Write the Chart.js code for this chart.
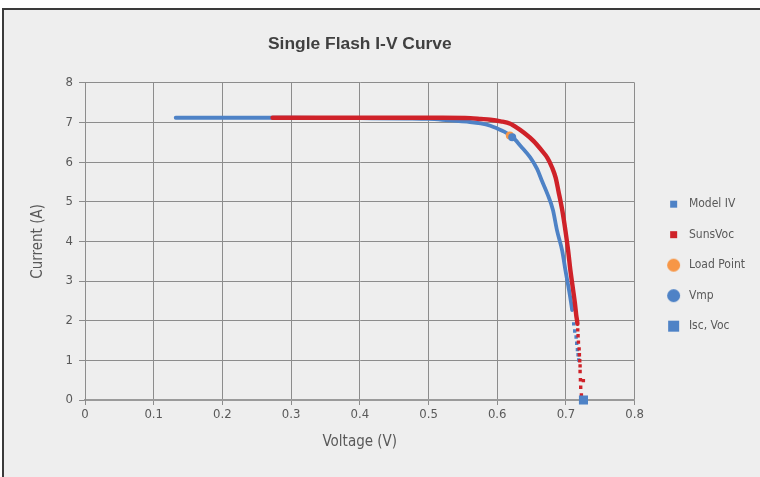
<!DOCTYPE html>
<html>
<head>
<meta charset="utf-8">
<title>Single Flash I-V Curve</title>
<script src="https://cdn.jsdelivr.net/npm/chart.js@4.4.1/dist/chart.umd.min.js"></script>
<style>
    html, body { margin: 0; padding: 0; background: #ffffff; }
    #frame {
        position: absolute; left: 2px; top: 8px; width: 758px; height: 469px;
        box-sizing: border-box; background: #eeeeee;
        border-left: 2px solid #3a3a3a; border-top: 2px solid #3a3a3a;
    }
    #chart-iv { position: absolute; left: 0; top: 0; }
</style>
</head>
<body>
<div id="frame"></div>
<canvas id="chart-iv" width="760" height="477"></canvas>
<script>
// Colors
const color_model = '#4e82c6'
const color_suns = '#cf2229'
const color_load = '#f79646'
const color_grid = '#8c8c8c'
const color_text = '#595959'

const font_narrow = "'DejaVu Sans Condensed', 'DejaVu Sans', sans-serif"
const font_title = "'Liberation Sans', Arial, sans-serif"

// Tick labels
const x_tick_labels = ['0', '0.1', '0.2', '0.3', '0.4', '0.5', '0.6', '0.7', '0.8']
const y_tick_labels = ['0', '1', '2', '3', '4', '5', '6', '7', '8']

// Model IV (blue): dense part, then the sparse dots near Voc
const model_v = [0.132, 0.20, 0.30, 0.40, 0.47, 0.50, 0.52, 0.556, 0.576, 0.590, 0.600, 0.610,
    0.622, 0.634, 0.648, 0.658, 0.665, 0.673, 0.681, 0.687, 0.6945, 0.6993, 0.7045, 0.7076, 0.709]
const model_i = [7.12, 7.12, 7.12, 7.11, 7.10, 7.09, 7.07, 7.02, 6.98, 6.92, 6.85, 6.77,
    6.64, 6.41, 6.12, 5.83, 5.53, 5.20, 4.80, 4.28, 3.77, 3.27, 2.77, 2.44, 2.27]
const model_tail_v = [0.7113, 0.7128, 0.7148, 0.7157, 0.7167, 0.7177, 0.7186]
const model_tail_i = [1.92, 1.74, 1.59, 1.43, 1.27, 1.14, 1.01]

// SunsVoc (red)
const suns_v = [0.273, 0.35, 0.45, 0.52, 0.561, 0.576, 0.590, 0.605, 0.619, 0.624, 0.639, 0.653,
    0.665, 0.673, 0.680, 0.685, 0.689, 0.6945, 0.6993, 0.7032, 0.7065, 0.7105, 0.713, 0.715, 0.7167]
const suns_i = [7.12, 7.12, 7.12, 7.12, 7.11, 7.09, 7.07, 7.03, 6.97, 6.92, 6.74, 6.53,
    6.29, 6.11, 5.86, 5.61, 5.28, 4.80, 4.27, 3.77, 3.27, 2.77, 2.45, 2.14, 1.92]
const suns_tail_v = [0.7172, 0.7177, 0.7182, 0.7192, 0.7196, 0.7201, 0.7206, 0.7206, 0.7211, 0.7254, 0.7215, 0.7225]
const suns_tail_i = [1.77, 1.62, 1.46, 1.29, 1.14, 0.99, 0.86, 0.72, 0.51, 0.49, 0.32, 0.13]

// Single points
const load_point = [0.6183, 6.67]
const vmp_point = [0.6218, 6.63]
const voc_point = [0.7255, 0]

// Build a curve dataset: a thick line for the dense part, loose dots for the tail
function curve_dataset(label, v, i, tail_v, tail_i, color, width) {
    const n = v.length
    const points = v.map((x, k) => ({x: x, y: i[k]}))
        .concat(tail_v.map((x, k) => ({x: x, y: tail_i[k]})))
    return {
        label: label,
        data: points,
        showLine: true,
        cubicInterpolationMode: 'monotone',
        borderColor: color,
        backgroundColor: color,
        borderWidth: width,
        borderJoinStyle: 'round',
        borderCapStyle: 'round',
        pointStyle: 'rect',
        pointBorderWidth: 0,
        pointRadius: ctx => ctx.dataIndex >= n ? 2.4 : 0,
        segment: {
            borderColor: ctx => ctx.p0DataIndex >= n - 1 ? 'transparent' : undefined,
        },
    }
}

function point_dataset(label, p, style, radius, color) {
    return {
        label: label,
        data: [{x: p[0], y: p[1]}],
        pointStyle: style,
        pointRadius: radius,
        pointBorderWidth: 0,
        backgroundColor: color,
        borderColor: color,
        clip: false,
    }
}

// Legend markers come in different sizes, so draw them as small canvases
function legend_marker(shape, size, color) {
    const shift = 5.6 // moves the marker right of the legend box centre
    const c = document.createElement('canvas')
    c.width = Math.round(2 * (shift + size / 2 + 1))
    c.height = size + 2
    const g = c.getContext('2d')
    const cx = c.width / 2 + shift
    const cy = c.height / 2
    g.fillStyle = color
    if (shape == 'circle') {
        g.beginPath()
        g.arc(cx, cy, size / 2, 0, 2 * Math.PI)
        g.fill()
    } else {
        g.fillRect(cx - size / 2, cy - size / 2, size, size)
    }
    return c
}

const legend_markers = {
    'Model IV': legend_marker('rect', 7, color_model),
    'SunsVoc': legend_marker('rect', 7, color_suns),
    'Load Point': legend_marker('circle', 13, color_load),
    'Vmp': legend_marker('circle', 13, color_model),
    'Isc, Voc': legend_marker('rect', 11, color_model),
}

// Dataset 0 is drawn on top; the legend is reversed to list Model IV first
const data = {
    datasets: [
        point_dataset('Isc, Voc', voc_point, 'rect', 6.4, color_model),
        point_dataset('Vmp', vmp_point, 'circle', 4, color_model),
        point_dataset('Load Point', load_point, 'circle', 4, color_load),
        curve_dataset('SunsVoc', suns_v, suns_i, suns_tail_v, suns_tail_i, color_suns, 4.4),
        curve_dataset('Model IV', model_v, model_i, model_tail_v, model_tail_i, color_model, 3.8),
    ]
}

Chart.defaults.font.family = font_narrow

const config = {
    type: 'scatter',
    data: data,
    options: {
        responsive: false,
        animation: false,
        layout: {
            padding: {left: 0, top: 0, bottom: 0, right: 5},
        },
        plugins: {
            title: {
                display: true,
                text: 'Single Flash I-V Curve',
                fullSize: false,
                color: '#404040',
                font: {family: font_title, size: 17.4, weight: 'bold'},
                padding: {top: 34, bottom: 28},
            },
            legend: {
                position: 'right',
                align: 'start',
                fullSize: false,
                reverse: true,
                onClick: null,
                title: {
                    display: true,
                    text: '',
                    font: {size: 1},
                    padding: {top: 0, bottom: 95.6},
                },
                labels: {
                    usePointStyle: true,
                    pointStyleWidth: 29.8,
                    padding: 18.5,
                    color: color_text,
                    font: {size: 12},
                    generateLabels: function (chart) {
                        const items = Chart.defaults.plugins.legend.labels.generateLabels(chart)
                        items.forEach(item => { item.pointStyle = legend_markers[item.text] })
                        return items
                    },
                },
            },
            tooltip: {enabled: false},
        },
        scales: {
            x: {
                type: 'linear',
                min: 0,
                max: 0.8,
                ticks: {
                    stepSize: 0.1,
                    color: color_text,
                    font: {size: 13},
                    padding: 2,
                    autoSkip: false,
                    maxRotation: 0,
                    callback: (value, index) => x_tick_labels[index],
                },
                grid: {color: color_grid, tickLength: 5},
                border: {color: '#9a9a9a', width: 2},
                title: {
                    display: true,
                    text: 'Voltage (V)',
                    color: color_text,
                    font: {size: 15},
                    padding: {top: 0, bottom: 26},
                },
                afterFit: scale => { scale.height = 77 },
            },
            y: {
                min: 0,
                max: 8,
                ticks: {
                    stepSize: 1,
                    color: color_text,
                    font: {size: 13},
                    padding: 6,
                    callback: (value, index) => y_tick_labels[index],
                },
                grid: {color: color_grid, tickLength: 6},
                border: {color: color_grid},
                title: {
                    display: true,
                    text: 'Current (A)',
                    color: color_text,
                    font: {size: 15},
                    padding: {top: 29, bottom: 0},
                },
                afterFit: scale => { scale.width = 85 },
            },
        },
    },
}

const context = document.getElementById('chart-iv').getContext('2d')
const chart = new Chart(context, config)
</script>
</body>
</html>
